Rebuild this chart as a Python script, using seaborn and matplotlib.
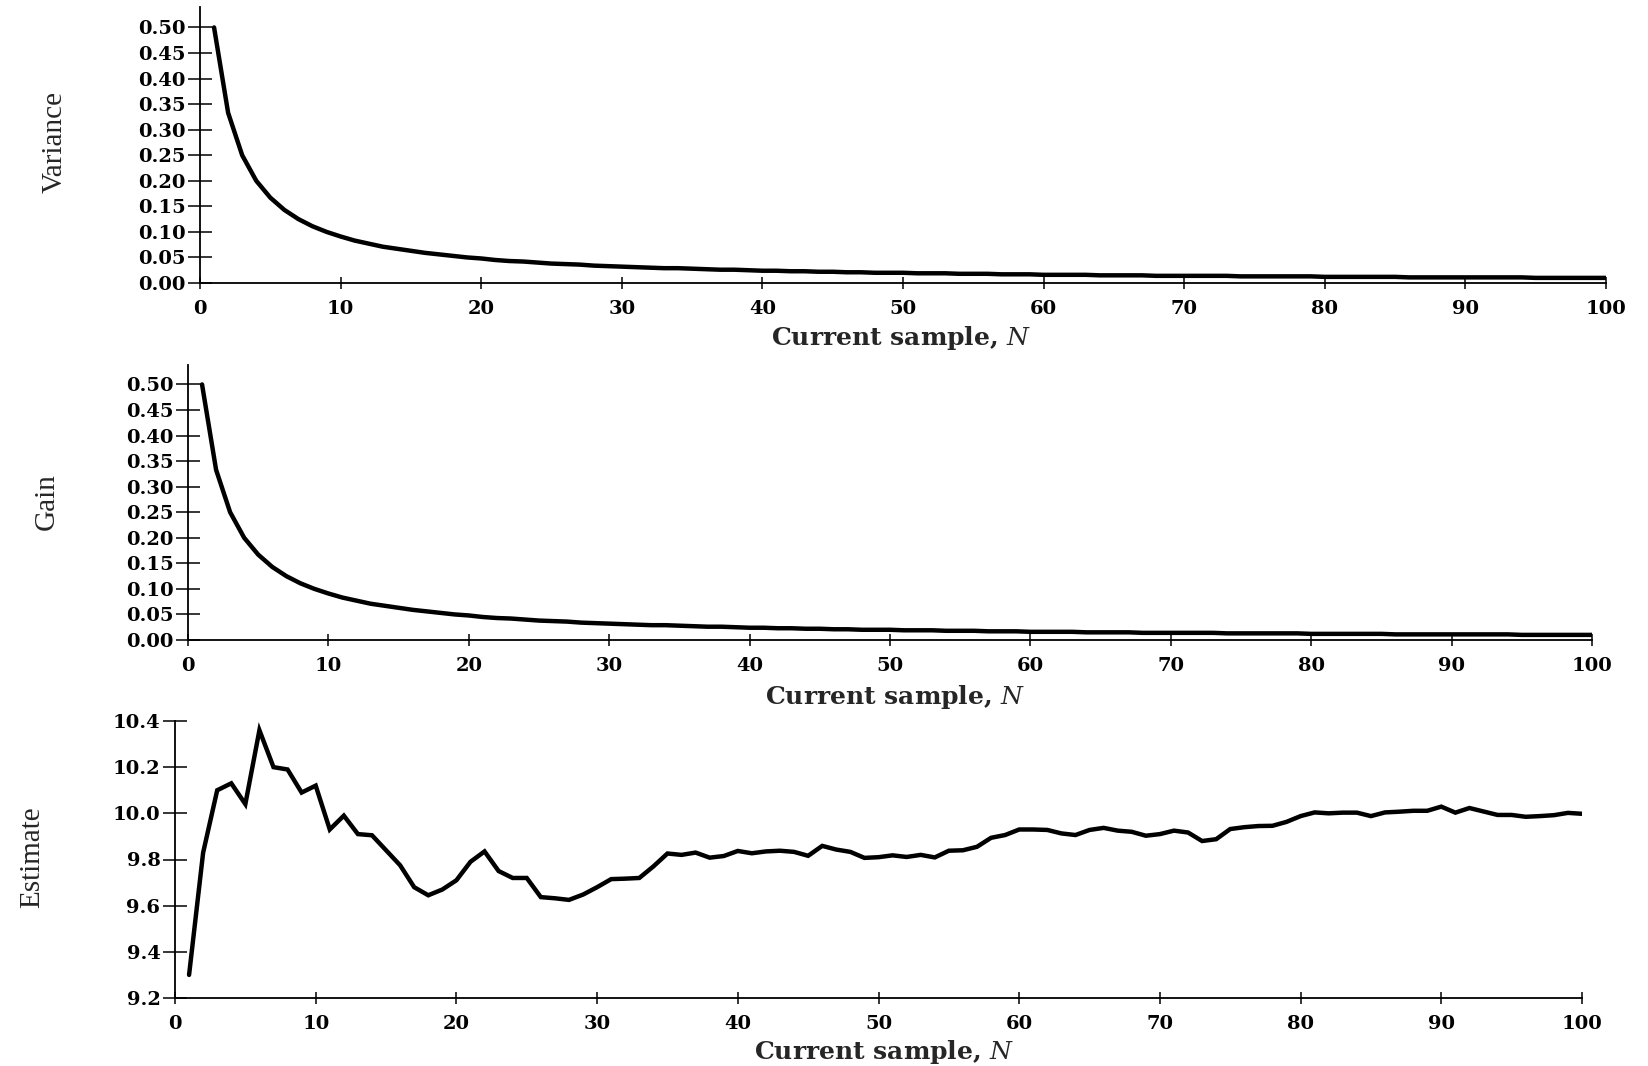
import numpy as np
import pandas as pd
import matplotlib
matplotlib.use("Agg")
import matplotlib.pyplot as plt
import seaborn as sns

# ---------------- data ----------------
samples = list(range(1, 101))

variance = [0.500, 0.333, 0.250, 0.200, 0.167, 0.143, 0.125, 0.111, 0.100, 0.091,
            0.083, 0.077, 0.071, 0.067, 0.063, 0.059, 0.056, 0.053, 0.050, 0.048,
            0.045, 0.043, 0.042, 0.040, 0.038, 0.037, 0.036, 0.034, 0.033, 0.032,
            0.031, 0.030, 0.029, 0.029, 0.028, 0.027, 0.026, 0.026, 0.025, 0.024,
            0.024, 0.023, 0.023, 0.022, 0.022, 0.021, 0.021, 0.020, 0.020, 0.020,
            0.019, 0.019, 0.019, 0.018, 0.018, 0.018, 0.017, 0.017, 0.017, 0.016,
            0.016, 0.016, 0.016, 0.015, 0.015, 0.015, 0.015, 0.014, 0.014, 0.014,
            0.014, 0.014, 0.014, 0.013, 0.013, 0.013, 0.013, 0.013, 0.013, 0.012,
            0.012, 0.012, 0.012, 0.012, 0.012, 0.011, 0.011, 0.011, 0.011, 0.011,
            0.011, 0.011, 0.011, 0.011, 0.010, 0.010, 0.010, 0.010, 0.010, 0.010]

gain = [0.500, 0.333, 0.250, 0.200, 0.167, 0.143, 0.125, 0.111, 0.100, 0.091,
        0.083, 0.077, 0.071, 0.067, 0.063, 0.059, 0.056, 0.053, 0.050, 0.048,
        0.045, 0.043, 0.042, 0.040, 0.038, 0.037, 0.036, 0.034, 0.033, 0.032,
        0.031, 0.030, 0.029, 0.029, 0.028, 0.027, 0.026, 0.026, 0.025, 0.024,
        0.024, 0.023, 0.023, 0.022, 0.022, 0.021, 0.021, 0.020, 0.020, 0.020,
        0.019, 0.019, 0.019, 0.018, 0.018, 0.018, 0.017, 0.017, 0.017, 0.016,
        0.016, 0.016, 0.016, 0.015, 0.015, 0.015, 0.015, 0.014, 0.014, 0.014,
        0.014, 0.014, 0.014, 0.013, 0.013, 0.013, 0.013, 0.013, 0.013, 0.012,
        0.012, 0.012, 0.012, 0.012, 0.012, 0.011, 0.011, 0.011, 0.011, 0.011,
        0.011, 0.011, 0.011, 0.011, 0.010, 0.010, 0.010, 0.010, 0.010, 0.010]

estimate = [9.300, 9.830, 10.100, 10.130, 10.040, 10.360, 10.200, 10.190, 10.090, 10.120,
            9.930, 9.990, 9.910, 9.905, 9.840, 9.775, 9.680, 9.645, 9.670, 9.710,
            9.790, 9.835, 9.750, 9.720, 9.720, 9.637, 9.632, 9.625, 9.648, 9.680,
            9.715, 9.717, 9.720, 9.770, 9.826, 9.820, 9.830, 9.808, 9.815, 9.837,
            9.827, 9.835, 9.838, 9.833, 9.816, 9.859, 9.843, 9.833, 9.807, 9.810,
            9.818, 9.811, 9.820, 9.809, 9.838, 9.840, 9.855, 9.894, 9.906, 9.930,
            9.930, 9.928, 9.913, 9.906, 9.928, 9.937, 9.925, 9.920, 9.903, 9.910,
            9.925, 9.917, 9.880, 9.888, 9.932, 9.940, 9.945, 9.946, 9.963, 9.988,
            10.004, 10.000, 10.003, 10.003, 9.988, 10.004, 10.007, 10.011, 10.011, 10.029,
            10.003, 10.023, 10.008, 9.993, 9.993, 9.985, 9.988, 9.992, 10.002, 9.998]

x_ticks = list(range(0, 101, 10))
var_ticks = [0.00, 0.05, 0.10, 0.15, 0.20, 0.25, 0.30, 0.35, 0.40, 0.45, 0.50]
est_ticks = [9.2, 9.4, 9.6, 9.8, 10.0, 10.2, 10.4]

panel_labels = ["Variance", "Gain", "Estimate"]
x_label = r"Current sample, $\mathit{N}$"

# ---------------- style ----------------
sns.set_style("ticks")
plt.rcParams["font.family"] = ["DejaVu Serif"]
plt.rcParams["mathtext.fontset"] = "dejavuserif"

df = pd.DataFrame({"N": samples, "Variance": variance, "Gain": gain, "Estimate": estimate})

W, H = 1648, 1066
fig = plt.figure(figsize=(W / 100, H / 100), dpi=100)

def rect(x0, x1, ytop, ybot):
    return [x0 / W, 1 - ybot / H, (x1 - x0) / W, (ybot - ytop) / H]

ax1 = fig.add_axes(rect(200, 1606, 7, 283))
ax2 = fig.add_axes(rect(188, 1592, 365, 640))
ax3 = fig.add_axes(rect(175, 1582, 721, 998))

tick_font = dict(family="DejaVu Serif", weight="bold", size=14)

def style(ax, col, yticks, ylim, fmt):
    sns.lineplot(data=df, x="N", y=col, ax=ax, color="black", lw=3.2,
                 solid_joinstyle="miter")
    ax.set_xlim(0, 100)
    ax.set_ylim(*ylim)
    ax.set_xticks(x_ticks)
    ax.set_yticks(yticks)
    ax.set_xticklabels([str(t) for t in x_ticks], fontdict=tick_font)
    ax.set_yticklabels([fmt.format(t) for t in yticks], fontdict=tick_font)
    sns.despine(ax=ax)
    for s in ("left", "bottom"):
        ax.spines[s].set_linewidth(1.3)
        ax.spines[s].set_color("black")
    ax.tick_params(axis="y", direction="inout", length=17, width=1.1, pad=2, colors="black")
    ax.tick_params(axis="x", direction="inout", length=9, width=1.1, pad=8, colors="black")
    ax.set_xlabel("")
    ax.set_ylabel("")
    ax.patch.set_alpha(0)

style(ax1, "Variance", var_ticks, (0, 0.54), "{:.2f}")
style(ax2, "Gain", var_ticks, (0, 0.538), "{:.2f}")
style(ax3, "Estimate", est_ticks, (9.2, 10.4), "{:.1f}")

# axis titles
xl_font = dict(family="DejaVu Serif", weight="bold", size=18)
fig.text(901 / W, 1 - 338 / H, x_label, ha="center", va="center", fontdict=xl_font)
fig.text(895 / W, 1 - 697 / H, x_label, ha="center", va="center", fontdict=xl_font)
fig.text(884 / W, 1 - 1052 / H, x_label, ha="center", va="center", fontdict=xl_font)

yl_font = dict(family="Liberation Serif", size=21)
fig.text(55 / W, 1 - 142 / H, panel_labels[0], rotation=90, ha="center", va="center", fontdict=yl_font)
fig.text(47 / W, 1 - 502 / H, panel_labels[1], rotation=90, ha="center", va="center", fontdict=yl_font)
fig.text(32 / W, 1 - 857 / H, panel_labels[2], rotation=90, ha="center", va="center", fontdict=yl_font)

fig.savefig("out.png", dpi=100, facecolor="white")
